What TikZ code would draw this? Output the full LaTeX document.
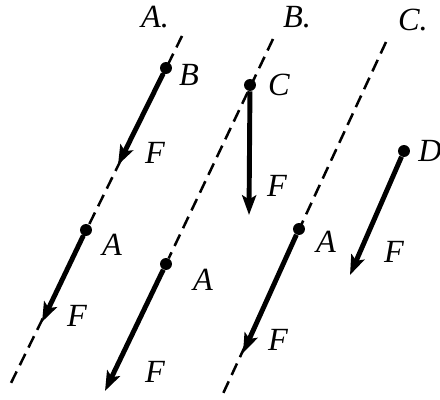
\documentclass[tikz,border=0pt]{standalone}
\usepackage{fontspec}
\setmainfont{Liberation Serif}
\newfontfamily\lblfont{Liberation Serif}
\usetikzlibrary{arrows.meta}

\begin{document}
\begin{tikzpicture}[x=0.025cm,y=-0.025cm,
  axis/.style={line width=1.8pt,dash pattern=on 9pt off 5pt},
  force/.style={line width=3.5pt,-{Stealth[length=14pt,width=10pt,inset=3pt]}},
  dot/.style={circle,fill,inner sep=0pt,minimum size=8.5pt},
  lbl/.style={font=\lblfont\fontsize{23}{26}\selectfont\itshape,inner sep=1pt}]
\useasboundingbox (0,0) rectangle (440,400);
% case A
\coordinate (a0) at (182,36);
\node[dot] (pB) at (166,68) {};
\coordinate (a1) at (118,165);
\node[dot] (pA1) at (86,230) {};
\coordinate (a2) at (42,322);
\coordinate (a3) at (10,385);
\draw[axis] (a0)--(a3);
\draw[force] (pB)--(a1);
\draw[force] (pA1)--(a2);
% case B
\coordinate (b0) at (273,39);
\node[dot] (pC) at (250,85) {};
\node[dot] (pA2) at (166,264) {};
\coordinate (b1) at (249,215);
\coordinate (b2) at (105,391);
\draw[axis] (b0)--(pA2);
\draw[force] (pC)--(b1);
\draw[force] (pA2)--(b2);
% case C
\coordinate (c0) at (386,42);
\node[dot] (pA3) at (299,229) {};
\coordinate (c1) at (243,353);
\coordinate (c2) at (221,398);
\node[dot] (pD) at (404,151) {};
\coordinate (c3) at (350,275);
\draw[axis] (c0)--(c2);
\draw[force] (pA3)--(c1);
\draw[force] (pD)--(c3);
% labels
\node[lbl] (tA) at (155,17) {A.};
\node[lbl] (tB) at (297,17) {B.};
\node[lbl] (tC) at (413,20) {C.};
\node[lbl] at (189,75) {B};
\node[lbl] at (155,153) {F};
\node[lbl] at (112,245) {A};
\node[lbl] at (77,316) {F};
\node[lbl] at (279,85) {C};
\node[lbl] at (277,186) {F};
\node[lbl] at (203,280) {A};
\node[lbl] at (155,372) {F};
\node[lbl] at (326,242) {A};
\node[lbl] at (278,340) {F};
\node[lbl] at (430,151) {D};
\node[lbl] at (394,252) {F};
\end{tikzpicture}
\end{document}
